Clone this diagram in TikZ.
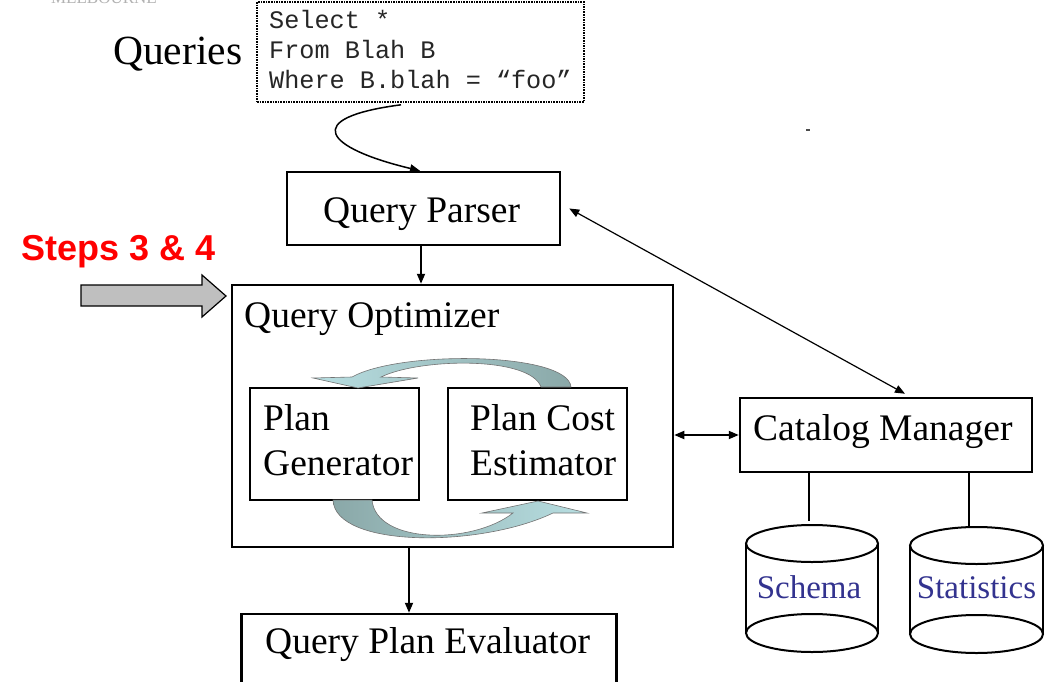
\documentclass[tikz,border=0pt]{standalone}
\usepackage{fontspec}
\setmainfont{Liberation Serif}
\setmonofont{Liberation Mono}
\newfontfamily\arialfont{Liberation Sans}
\usetikzlibrary{arrows.meta}
\definecolor{cycdark}{HTML}{8AA8A8}
\definecolor{cyclight}{HTML}{B8DFE2}
\definecolor{dbblue}{HTML}{33338F}
\definecolor{stepsred}{HTML}{FF0000}
\tikzset{
  box/.style={draw=black, line width=2.5pt, inner sep=0pt, fill=none},
  lbl/.style={anchor=base west, inner sep=0pt, font=\fontsize{37.5}{45}\selectfont},
  sqltext/.style={anchor=base west, inner sep=0pt, font=\ttfamily\fontsize{25.2}{30}\selectfont, text=black!85},
  arr/.style={line width=1.8pt, -{Triangle[length=10pt,width=8pt]}},
  darr/.style={line width=1.8pt, {Triangle[length=10pt,width=8pt]}-{Triangle[length=10pt,width=8pt]}},
  thinarr/.style={line width=1.2pt, {Triangle[length=10pt,width=8pt]}-{Triangle[length=10pt,width=8pt]}},
  dbline/.style={line width=2pt},
  dbtext/.style={anchor=base, inner sep=0pt, text=dbblue, font=\fontsize{33}{40}\selectfont},
  cycarrow/.style={draw=black!55, line width=0.6pt}
}
\begin{document}
\begin{tikzpicture}[x=1pt,y=-1pt]
\useasboundingbox[fill=white] (0,0) rectangle (1054,682);

% faint logo remnant at the top edge (cut off, as in the reference)
\node[anchor=base, inner sep=0pt, text=black!30, font=\fontsize{17}{20}\selectfont] (logo) at (104,4) {MELBOURNE};

% query text
\node[anchor=base west, inner sep=0pt, font=\fontsize{41.5}{48}\selectfont] (queries) at (113,65) {Queries};
\node[draw=black, line width=1.6pt, densely dotted, minimum width=327pt, minimum height=100pt, inner sep=0pt] (query) at (420.5,52) {};
\node[sqltext] (q1) at (269,29) {Select *};
\node[sqltext] (q2) at (269,59) {From Blah B};
\node[sqltext] (q3) at (269,89) {Where B.blah = “foo”};

% boxes
\node[box, minimum width=273pt, minimum height=73pt] (parser) at (423.5,208.5) {};
\node[lbl] (parsertext) at (323,222) {Query Parser};

\node[box, minimum width=441pt, minimum height=262pt] (optimizer) at (452.5,416) {};
\node[lbl] (optimizertext) at (244,327) {Query Optimizer};

\node[box, minimum width=169pt, minimum height=112pt] (plangen) at (334.5,444) {};
\node[lbl] (plangen1) at (263,430) {Plan};
\node[lbl] (plangen2) at (263,475) {Generator};

\node[box, minimum width=179pt, minimum height=112pt] (plancost) at (537.5,444) {};
\node[lbl] (plancost1) at (470,430) {Plan Cost};
\node[lbl] (plancost2) at (470,475) {Estimator};

\node[box, minimum width=292pt, minimum height=74pt] (catalog) at (886,435) {};
\node[lbl] (catalogtext) at (753,440) {Catalog Manager};

\node[box, minimum width=375pt, minimum height=110pt] (evaluator) at (429,669) {};
\node[lbl] (evaluatortext) at (265,653) {Query Plan Evaluator};

% steps label and block arrow
\node[anchor=base west, inner sep=0pt, text=stepsred, font=\arialfont\bfseries\fontsize{36}{42}\selectfont] (steps) at (21,260) {Steps 3 \& 4};
\draw[fill=black!25, draw=black, line width=1.2pt]
  (81,285) -- (202,285) -- (202,275) -- (226,296) -- (202,317) -- (202,306) -- (81,306) -- cycle;

% cycle arrows
\shade[cycarrow, left color=cyclight, right color=cycdark]
  (571,387) .. controls (568,352) and (400,350) .. (352,377)
  -- (313,378) -- (358,388) -- (418,378) -- (381,377)
  .. controls (420,358) and (530,356) .. (541,387) -- cycle;
\shade[cycarrow, left color=cycdark, right color=cyclight]
  (333,500) .. controls (335,548) and (480,548) .. (553,513)
  -- (587,513) -- (538,501) -- (482,513) -- (513,513)
  .. controls (472,545) and (376,544) .. (372,500) -- cycle;

% connectors
\draw[line width=1.5pt, -{Triangle[length=10pt,width=8pt]}]
  ([xshift=-19.5pt,yshift=-2pt]query.south) .. controls (300,118) and (325,148) .. ([xshift=-3.5pt]parser.north);
\draw[arr] ([xshift=-2.5pt]parser.south) -- ([xshift=-2.5pt]parser.south |- optimizer.north);
\draw[arr] ([xshift=-43.5pt]optimizer.south) -- ([xshift=-43.5pt]optimizer.south |- evaluator.north);
\draw[darr] (optimizer.east |- catalog.west) -- (catalog.west);
\draw[thinarr] ([xshift=8pt]parser.east) -- ([xshift=19pt,yshift=3pt]catalog.north);

% databases
\coordinate (schematop) at (809,521);
\coordinate (stattop) at (969,527);
\draw[dbline] (schematop |- catalog.south) -- (schematop);
\draw[dbline] (stattop |- catalog.south) -- (stattop);

\draw[dbline] (812,543.5) ellipse [x radius=66, y radius=18.5];
\draw[dbline] (812,633) ellipse [x radius=66, y radius=19];
\draw[dbline] (746,543.5) -- (746,633);
\draw[dbline] (878,543.5) -- (878,633);
\node[dbtext] (schema) at (809,598) {Schema};

\draw[dbline] (976.5,545.5) ellipse [x radius=66.5, y radius=18.5];
\draw[dbline] (976.5,634) ellipse [x radius=66.5, y radius=19];
\draw[dbline] (910,545.5) -- (910,634);
\draw[dbline] (1043,545.5) -- (1043,634);
\node[dbtext] (statistics) at (976.5,598) {Statistics};

% stray mark
\fill[black!70] (806,129) rectangle (810,131);
\end{tikzpicture}
\end{document}
